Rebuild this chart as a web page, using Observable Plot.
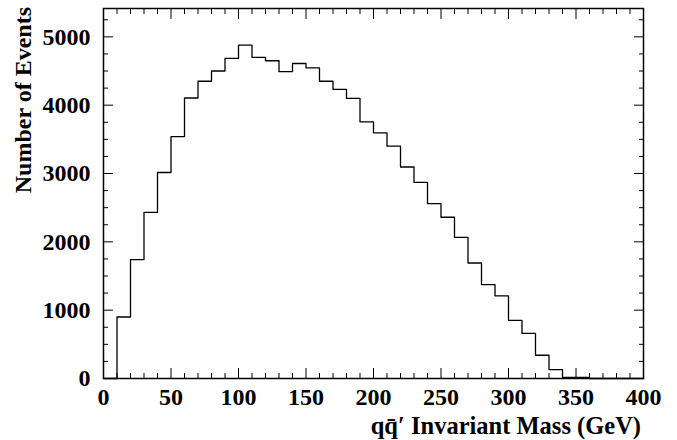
<!DOCTYPE html>
<html><head><meta charset="utf-8">
<script src="https://cdn.jsdelivr.net/npm/d3@7"></script>
<script src="https://cdn.jsdelivr.net/npm/@observablehq/plot@0.6"></script>
<style>body{margin:0;background:#fff} svg{display:block}</style>
</head><body><div id="chart"></div>
<script>
const binStart = [0,10,20,30,40,50,60,70,80,90,100,110,120,130,140,150,160,170,180,190,
  200,210,220,230,240,250,260,270,280,290,300,310,320,330,340,350,360,370,380,390];
const binEnd = 400;
const counts = [0,900,1740,2430,3015,3540,4105,4350,4500,4685,4880,4700,4650,4490,4610,4545,4350,4230,4100,3755,
  3595,3400,3095,2870,2560,2360,2065,1690,1375,1210,850,660,340,130,15,15,0,0,0,0];
const xMajor = [0,50,100,150,200,250,300,350,400];
const xMinor = [10,20,30,40,60,70,80,90,110,120,130,140,160,170,180,190,210,220,230,240,260,270,280,290,310,320,330,340,360,370,380,390];
const yMajor = [0,1000,2000,3000,4000,5000];
const yMinor = [250,500,750,1250,1500,1750,2250,2500,2750,3250,3500,3750,4250,4500,4750,5250];
const xTitle = "qq\u0304\u2032 Invariant Mass (GeV)";
const yTitle = "Number of Events";

const pts = binStart.map((x, i) => ({x, y: counts[i]})).concat([{x: binEnd, y: 0}]);
const font = "'Liberation Serif', 'Times New Roman', serif";

const chart = Plot.plot({
  width: 677, height: 440,
  marginLeft: 103, marginRight: 34, marginTop: 8, marginBottom: 62,
  style: {fontFamily: font, background: "#fff", color: "#000"},
  x: {domain: [0, 400]},
  y: {domain: [0, 5415]},
  marks: [
    Plot.line(pts, {x: "x", y: "y", curve: "step-after", stroke: "#000", strokeWidth: 1.3}),
    Plot.axisX(xMinor, {anchor: "bottom", tickSize: -5, fill: "none", label: null}),
    Plot.axisX(xMinor, {anchor: "top", tickSize: -5, fill: "none", label: null}),
    Plot.axisX(xMajor, {anchor: "bottom", tickSize: -10, fill: "none", label: null}),
    Plot.axisX(xMajor, {anchor: "top", tickSize: -10, fill: "none", label: null}),
    Plot.axisX(xMajor, {anchor: "bottom", tickSize: 0, tickPadding: 9, tickFormat: "d", label: null, fontSize: 24, fontWeight: "bold"}),
    Plot.axisY(yMinor, {anchor: "left", tickSize: -5, fill: "none", label: null}),
    Plot.axisY(yMinor, {anchor: "right", tickSize: -5, fill: "none", label: null}),
    Plot.axisY(yMajor, {anchor: "left", tickSize: -10, fill: "none", label: null}),
    Plot.axisY(yMajor, {anchor: "right", tickSize: -10, fill: "none", label: null}),
    Plot.axisY(yMajor, {anchor: "left", tickSize: 0, tickPadding: 13, tickFormat: "d", label: null, fontSize: 24, fontWeight: "bold"}),
    Plot.frame({stroke: "#000", strokeWidth: 1.5})
  ]
});

const svg = d3.select(chart);
svg.append("text")
  .attr("transform", "translate(31,7) rotate(-90)")
  .attr("text-anchor", "end")
  .attr("font-family", font).attr("font-weight", "bold").attr("font-size", 24)
  .attr("fill", "#000")
  .text(yTitle);
svg.append("text")
  .attr("x", 641).attr("y", 434)
  .attr("text-anchor", "end")
  .attr("font-family", font).attr("font-weight", "bold").attr("font-size", 24.5)
  .attr("fill", "#000")
  .text(xTitle);

document.getElementById("chart").appendChild(chart);
</script></body></html>
